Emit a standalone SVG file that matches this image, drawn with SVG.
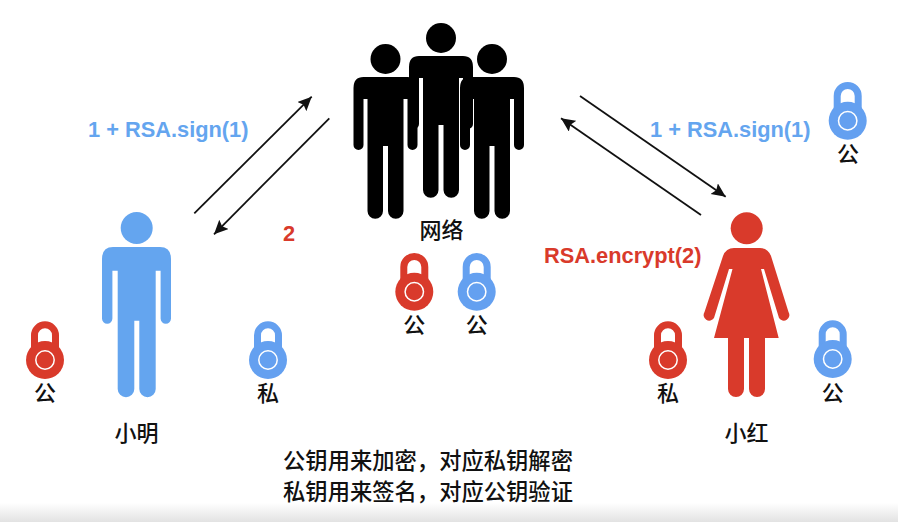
<svg xmlns="http://www.w3.org/2000/svg" width="898" height="522" viewBox="0 0 898 522">
<style>
.cjk{font-family:"Noto Sans CJK SC","Liberation Sans",sans-serif;fill:#111;text-anchor:middle}
.lb{font-size:22px;font-weight:500}
.sm{font-size:22px;font-weight:500}
.note{font-size:22.300px;font-weight:500;fill:#111}
.en{font-family:"Liberation Sans",Arial,sans-serif;font-weight:700;font-size:21.800px}
.blue{fill:#64a5ef}
.red{fill:#d93a2b}
.conn{stroke:#111;stroke-width:1.800;fill:none;marker-end:url(#ah)}
</style>
<defs>
<linearGradient id="fade" x1="0" y1="0" x2="0" y2="1"><stop offset="0" stop-color="#fff"/><stop offset="1" stop-color="#e2e2e2"/></linearGradient>
<marker id="ah" markerUnits="userSpaceOnUse" markerWidth="15" markerHeight="14" refX="14" refY="6.500" orient="auto"><path d="M0,0 L14,6.500 L0,13 L2.500,6.500 Z" fill="#111"/></marker>
<g id="lockRed"><path d="M-10.500,-10 V-24.700 a10.500,10.500 0 0 1 21,0 V-10" fill="none" stroke="#d93a2b" stroke-width="7"/><circle r="19" fill="#d93a2b"/><circle r="9.200" fill="none" stroke="#fff" stroke-width="1.500"/></g>
<g id="lockBlue"><path d="M-10.500,-10 V-24.700 a10.500,10.500 0 0 1 21,0 V-10" fill="none" stroke="#64a0f0" stroke-width="7"/><circle r="19" fill="#64a0f0"/><circle r="9.200" fill="none" stroke="#fff" stroke-width="1.500"/></g>
<path id="man" d="M-22,18 H22 Q32,18 32,29 V86 a5,5 0 0 1 -10,0 V40 H18 V152 a7.750,7.750 0 0 1 -15.500,0 V87 H-2.500 V152 a7.750,7.750 0 0 1 -15.500,0 V40 H-22 V86 a5,5 0 0 1 -10,0 V29 Q-32,18 -22,18 Z"/>
</defs>
<rect width="898" height="522" fill="#fff"/>
<rect y="503" width="898" height="19" fill="url(#fade)"/>
<g id="network">
<g id="person-left"><circle cx="385.500" cy="59" r="15"/><use href="#man" x="385.500" y="59"/></g>
<g id="person-center"><circle cx="441" cy="38" r="15"/><use href="#man" x="441" y="38"/></g>
<g id="person-right"><circle cx="492" cy="59" r="15"/><use href="#man" x="492" y="59"/></g>
<text class="cjk lb" x="441.500" y="238">网络</text>
</g>
<g id="lock-net-red"><use href="#lockRed" x="414.300" y="291.700"/><text class="cjk sm" x="414.300" y="332.500">公</text></g>
<g id="lock-net-blue"><use href="#lockBlue" x="476.700" y="291.700"/><text class="cjk sm" x="476.700" y="332.500">公</text></g>
<g id="xiaoming">
<circle class="blue" cx="136.700" cy="228" r="16"/>
<path class="blue" d="M113,247 H160 Q171,247 171,259 V318.500 a5.200,5.200 0 0 1 -10.400,0 V270.700 H155.700 V389 a8.200,8.200 0 0 1 -16.400,0 V320.700 H134.300 V389 a8.300,8.300 0 0 1 -16.600,0 V270.700 H112.400 V318.500 a5.200,5.200 0 0 1 -10.400,0 V259 Q102,247 113,247 Z"/>
<text class="cjk lb" x="136.500" y="441">小明</text>
</g>
<g id="lock-ming-red"><use href="#lockRed" x="45" y="360"/><text class="cjk sm" x="45" y="400.500">公</text></g>
<g id="lock-ming-blue"><use href="#lockBlue" x="268" y="360"/><text class="cjk sm" x="268" y="400.500">私</text></g>
<g id="xiaohong">
<circle class="red" cx="746.700" cy="228.300" r="16"/>
<path class="red" d="M734,248 H760 Q768,248 771,256 L788.500,312 a5,5 0 0 1 -9.500,6 L764,269 H761 L778.700,338 H765 V389 a8,8 0 0 1 -16,0 V338 H744 V389 a8,8 0 0 1 -16,0 V338 H714 L732.500,269 H729 L714,318 a5,5 0 0 1 -9.500,-6 L723,256 Q726,248 734,248 Z"/>
<text class="cjk lb" x="746.500" y="441">小红</text>
</g>
<g id="lock-hong-red"><use href="#lockRed" x="668" y="360"/><text class="cjk sm" x="668" y="400.500">私</text></g>
<g id="lock-hong-blue"><use href="#lockBlue" x="832.700" y="359"/><text class="cjk sm" x="832.700" y="400.500">公</text></g>
<g id="lock-top-right"><use href="#lockBlue" x="847.700" y="120.700"/><text class="cjk sm" x="848" y="161.500">公</text></g>
<g id="connectors">
<line class="conn" x1="194.300" y1="213.300" x2="311.700" y2="96.700"/>
<line class="conn" x1="329.300" y1="118.300" x2="214" y2="234.300"/>
<line class="conn" x1="580" y1="96" x2="725.700" y2="196.700"/>
<line class="conn" x1="701" y1="215" x2="561" y2="118.300"/>
</g>
<g id="labels">
<text class="en blue" x="88" y="136.500">1 + RSA.sign(1)</text>
<text class="en blue" x="650" y="136.500">1 + RSA.sign(1)</text>
<text class="en red" x="283" y="240.500">2</text>
<text class="en red" x="544" y="263">RSA.encrypt(2)</text>
<text class="cjk note" x="428" y="468.500">公钥用来加密，对应私钥解密</text>
<text class="cjk note" x="428" y="499.500">私钥用来签名，对应公钥验证</text>
</g>
</svg>
